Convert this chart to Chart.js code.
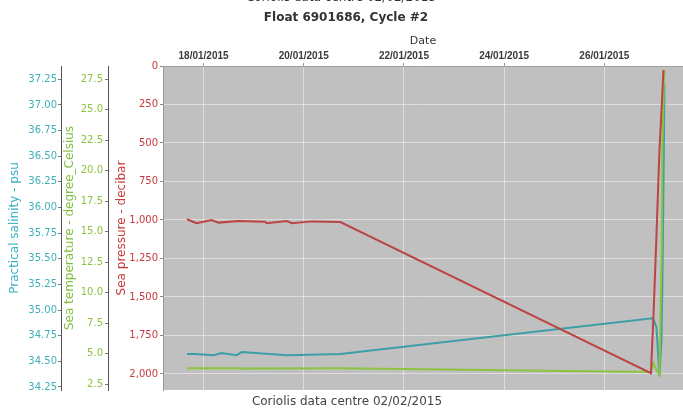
<!DOCTYPE html>
<html>
<head>
<meta charset="utf-8">
<script src="https://cdn.jsdelivr.net/npm/chart.js@4.4.1/dist/chart.umd.min.js"></script>
<style>
  html, body { margin: 0; padding: 0; background: #fff; }
  canvas { display: block; }
</style>
</head>
<body>
<canvas id="myChart" width="683" height="411"></canvas>
<script>
// dias de enero 2015 (eje x)
const pressureDays = [17.67, 17.86, 18.16, 18.30, 18.70, 19.23, 19.26, 19.66, 19.76, 20.16, 20.73, 26.93, 26.98, 27.03, 27.10, 27.13, 27.18];
const pressureValues = [995, 1021, 1000, 1017, 1006, 1011, 1021, 1006, 1021, 1009, 1013, 1995, 1628, 1195, 545, 362, 26];

const salinityDays = [17.67, 17.83, 18.20, 18.36, 18.66, 18.76, 19.66, 20.73, 26.96, 26.99, 27.04, 27.10, 27.14, 27.16, 27.18, 27.20];
const salinityValues = [34.57, 34.57, 34.56, 34.58, 34.56, 34.59, 34.56, 34.57, 34.92, 34.90, 34.83, 34.36, 34.70, 35.30, 36.20, 37.20];

const temperatureDays = [17.67, 18.70, 18.76, 20.73, 26.93, 26.98, 27.04, 27.10, 27.145, 27.157, 27.177, 27.197];
const temperatureValues = [3.80, 3.80, 3.77, 3.79, 3.48, 4.22, 3.65, 3.24, 13.5, 21.7, 25.4, 28.2];

const dateTicks = [18, 20, 22, 24, 26];
const titleText = "Float 6901686, Cycle #2";
const footerText = "Coriolis data centre 02/02/2015";

const toPoints = (xs, ys) => xs.map((x, i) => ({ x: x, y: ys[i] }));
const fmtDate = (d) => String(d).padStart(2, "0") + "/01/2015";
const fmtThousands = (v) => String(v).replace(/\B(?=(\d{3})+(?!\d))/g, ",");

const tickFont = { family: "DejaVu Sans", size: 10 };
const titleFont = { family: "DejaVu Sans", size: 12 };

const fondo = {
  id: "fondo",
  beforeDraw(chart) {
    const { ctx, chartArea: a } = chart;
    ctx.save();
    ctx.fillStyle = "#c0c0c0";
    ctx.fillRect(a.left, a.top, a.right - a.left, a.bottom - a.top);
    ctx.restore();
  },
  afterDraw(chart) {
    const ctx = chart.ctx;
    ctx.save();
    ctx.textAlign = "center";
    ctx.textBaseline = "middle";
    ctx.fillStyle = "#333";
    ctx.font = "12px 'DejaVu Sans'";
    ctx.fillText(footerText, 341, -2);
    ctx.font = "bold 12px 'DejaVu Sans'";
    ctx.fillText(titleText, 346, 18);
    ctx.fillStyle = "#444";
    ctx.font = "12px 'DejaVu Sans'";
    ctx.fillText(footerText, 347, 402);
    ctx.restore();
  }
};

const myChart = document.getElementById("myChart");

new Chart(myChart, {
  type: "line",
  data: {
    datasets: [
      {
        label: "Sea pressure",
        data: toPoints(pressureDays, pressureValues),
        yAxisID: "yP",
        borderColor: "#bb4444",
        borderWidth: 2,
        pointRadius: 0,
        order: 0
      },
      {
        label: "Sea temperature",
        data: toPoints(temperatureDays, temperatureValues),
        yAxisID: "yT",
        borderColor: "#8cc43e",
        borderWidth: 2,
        pointRadius: 0,
        order: 1
      },
      {
        label: "Practical salinity",
        data: toPoints(salinityDays, salinityValues),
        yAxisID: "yS",
        borderColor: "#3c9fa6",
        borderWidth: 2,
        pointRadius: 0,
        order: 2
      }
    ]
  },
  options: {
    responsive: false,
    animation: false,
    devicePixelRatio: 1,
    layout: { padding: { top: 30, bottom: 21, left: 0, right: 0 } },
    plugins: { legend: { display: false }, tooltip: { enabled: false } },
    scales: {
      x: {
        type: "linear",
        position: "top",
        min: 17.19,
        max: 27.57,
        afterFit: (s) => { s.height = 36; },
        afterBuildTicks: (s) => { s.ticks = dateTicks.map((v) => ({ value: v })); },
        ticks: {
          callback: (v) => fmtDate(v),
          font: { family: "Liberation Sans", size: 10, weight: "bold" },
          color: "#3a3a3a",
          padding: 1,
          maxRotation: 0,
          autoSkip: false
        },
        grid: { color: "rgba(255,255,255,0.45)", tickLength: 3, tickColor: "#999" },
        border: { color: "#a0a0a0" },
        title: { display: true, text: "Date", color: "#333", font: { family: "DejaVu Sans", size: 11 }, padding: { top: 5, bottom: 0 } }
      },
      yP: {
        type: "linear",
        position: "left",
        weight: 0,
        reverse: true,
        min: 0,
        max: 2104,
        afterFit: (s) => { s.width = 55; },
        ticks: {
          stepSize: 250,
          maxTicksLimit: 30,
          includeBounds: false,
          callback: (v) => fmtThousands(v),
          font: tickFont,
          color: "#c8383c",
          padding: 2
        },
        grid: { color: "rgba(255,255,255,0.45)", tickLength: 3, tickColor: "#888" },
        border: { color: "#9a9a9a" },
        title: { display: true, text: "Sea pressure - decibar", color: "#c83c3c", font: titleFont, padding: { top: 7, bottom: 0 } }
      },
      yT: {
        type: "linear",
        position: "left",
        weight: 1,
        min: 2.01,
        max: 28.57,
        afterFit: (s) => { s.width = 47; },
        ticks: {
          stepSize: 2.5,
          maxTicksLimit: 30,
          includeBounds: false,
          callback: (v) => v.toFixed(1),
          font: tickFont,
          color: "#8cc43c",
          padding: 2
        },
        grid: { drawOnChartArea: false, tickLength: 3, color: "#777" },
        border: { display: true, color: "#555" },
        title: { display: true, text: "Sea temperature - degree_Celsius", color: "#80c040", font: titleFont, padding: { top: 2, bottom: 0 } }
      },
      yS: {
        type: "linear",
        position: "left",
        weight: 2,
        min: 34.22,
        max: 37.38,
        afterFit: (s) => { s.width = 61; },
        ticks: {
          stepSize: 0.25,
          maxTicksLimit: 30,
          includeBounds: false,
          callback: (v) => v.toFixed(2),
          font: tickFont,
          color: "#3fb0b8",
          padding: 1
        },
        grid: { drawOnChartArea: false, tickLength: 3, color: "#777" },
        border: { display: true, color: "#555" },
        title: { display: true, text: "Practical salinity - psu", color: "#3ab0c0", font: titleFont, padding: { top: 8, bottom: 0 } }
      }
    }
  },
  plugins: [fondo]
});
</script>
</body>
</html>
